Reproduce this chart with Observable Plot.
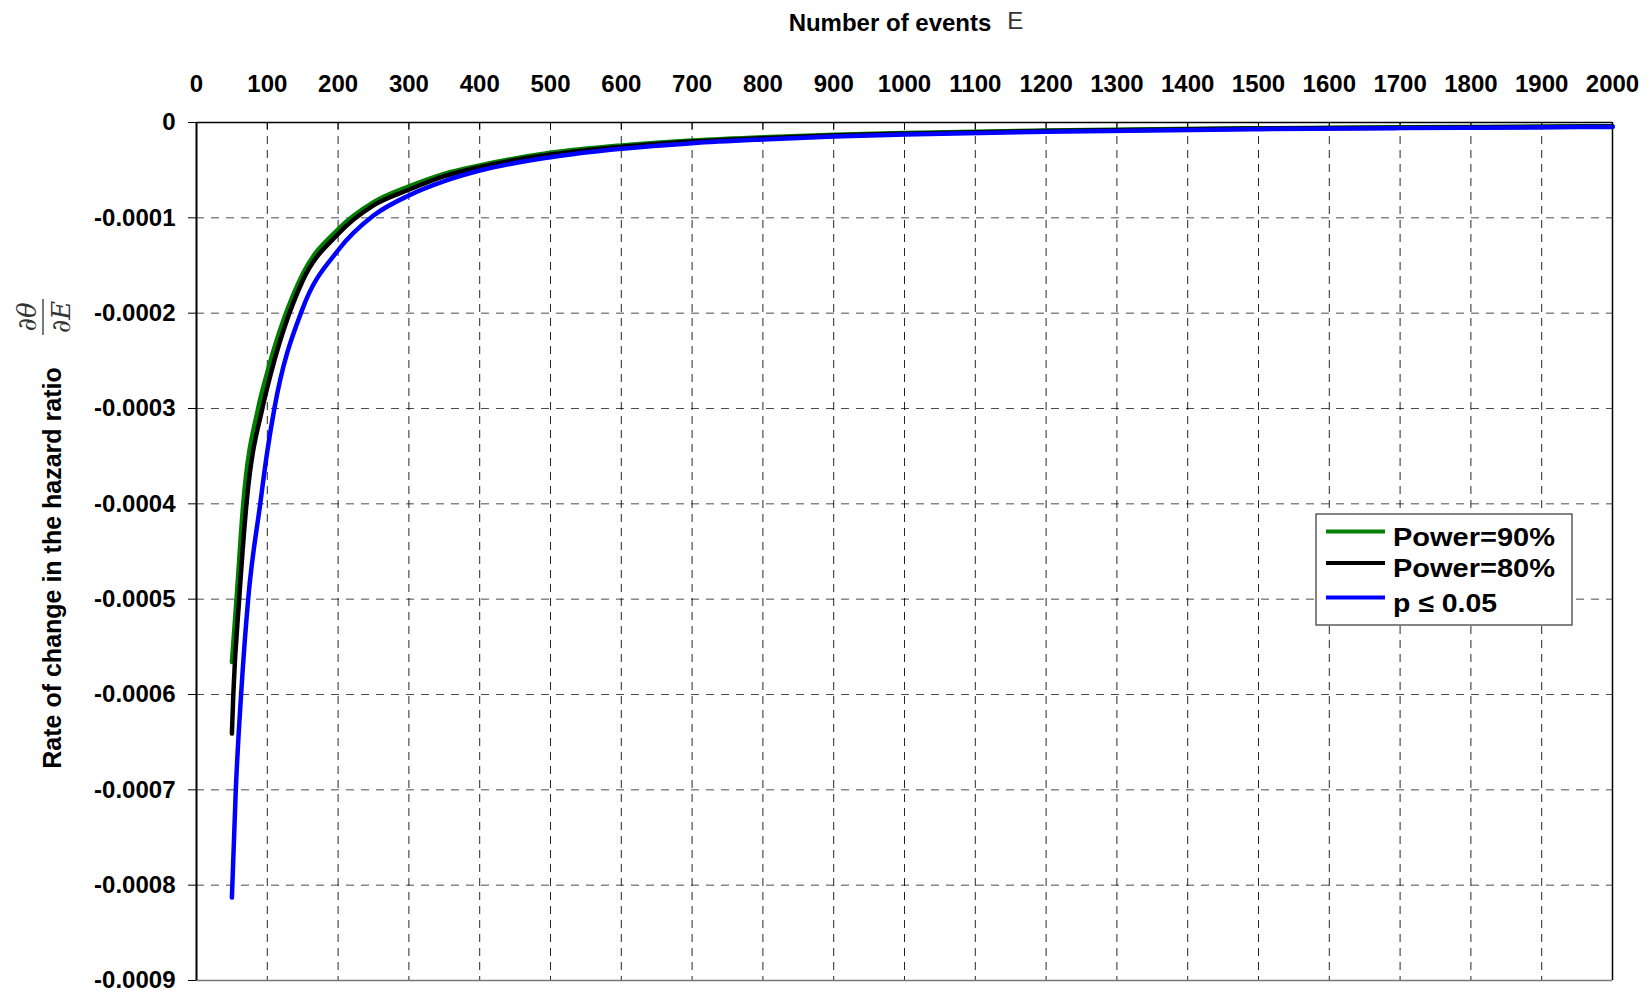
<!DOCTYPE html>
<html><head><meta charset="utf-8">
<script src="https://cdn.jsdelivr.net/npm/d3@7"></script>
<script src="https://cdn.jsdelivr.net/npm/@observablehq/plot@0.6"></script>
<style>html,body{margin:0;padding:0;background:#fff;} svg{display:block}</style>
</head><body><div id="chart"></div>
<script>
// ---- data ----
const xTicks = [0,100,200,300,400,500,600,700,800,900,1000,1100,1200,1300,1400,1500,1600,1700,1800,1900,2000];
const yTicks = [0,-0.0001,-0.0002,-0.0003,-0.0004,-0.0005,-0.0006,-0.0007,-0.0008,-0.0009];

const seriesNames = ["Power=90%", "Power=80%", "p \u2264 0.05"];
const seriesColors = ["#007f00", "#000000", "#0000ff"];

const eGreen = [50, 56.5, 66, 87, 100, 150, 200, 250, 300, 350, 400, 500, 600, 700, 800, 900, 1000, 1200, 1500, 1700, 2000];
const vGreen = [-0.000566, -0.0005, -0.0004, -0.0003, -0.000262, -0.000159, -0.000112, -0.0000836, -0.000067, -0.0000538, -0.000045, -0.0000318, -0.0000241, -0.0000189, -0.0000154, -0.0000129, -0.000011, -0.0000083, -0.000006, -0.000005, -0.0000039];

const eBlack = [50, 52, 60.3, 70.6, 93, 100, 150, 200, 250, 300, 350, 400, 500, 600, 700, 800, 900, 1000, 1200, 1500, 1700, 2000];
const vBlack = [-0.000641, -0.0006, -0.0005, -0.0004, -0.0003, -0.000278, -0.000166, -0.000117, -0.000087, -0.0000705, -0.0000563, -0.0000468, -0.0000336, -0.0000255, -0.0000199, -0.0000164, -0.0000136, -0.0000117, -0.0000089, -0.0000064, -0.0000054, -0.0000042];

const eBlue = [50, 55.5, 63, 73, 90, 100, 110, 150, 200, 250, 300, 350, 400, 500, 600, 700, 800, 900, 1000, 1200, 1500, 1700, 2000];
const vBlue = [-0.000813, -0.0007, -0.0006, -0.0005, -0.0004, -0.000345, -0.0003, -0.000195, -0.000134, -0.0000976, -0.0000765, -0.0000615, -0.0000504, -0.0000364, -0.0000276, -0.0000217, -0.0000178, -0.0000147, -0.0000126, -0.0000096, -0.000007, -0.0000059, -0.0000046];

// ---- build tables ----
const toRows = (es, vs) => es.map((e, i) => ({E: e, v: vs[i]}));
const green = toRows(eGreen, vGreen);
const black = toRows(eBlack, vBlack);
const blue = toRows(eBlue, vBlue);

const fmtY = d => d === 0 ? "0" : "-" + Math.abs(d).toFixed(4);
const lineOpts = c => ({x: "E", y: "v", stroke: c, strokeWidth: 4.5, strokeLinejoin: "round", curve: "monotone-x"});

const chart = Plot.plot({
  width: 1651, height: 991,
  marginLeft: 196, marginRight: 39, marginTop: 122, marginBottom: 11,
  style: {fontFamily: "'Liberation Sans', Arial, sans-serif", background: "#fff", overflow: "visible"},
  x: {domain: [0, 2000]},
  y: {domain: [-0.0009, 0]},
  marks: [
    Plot.gridX(xTicks.slice(1, -1), {stroke: "#000", strokeOpacity: 0.85, strokeWidth: 1, strokeDasharray: "8,6"}),
    Plot.gridY(yTicks.slice(1, -1), {stroke: "#000", strokeOpacity: 0.7, strokeWidth: 1, strokeDasharray: "8,7"}),
    Plot.ruleX(xTicks, {y1: 0, y2: -0.0000075, stroke: "#000", strokeWidth: 1}),
    Plot.ruleY([-0.0009], {stroke: "#777", strokeWidth: 1.5}),
    Plot.ruleY([0], {stroke: "#000", strokeWidth: 1.5}),
    Plot.ruleX([0], {stroke: "#000", strokeWidth: 2}),
    Plot.ruleX([2000], {stroke: "#000", strokeWidth: 1.5}),
    Plot.axisX(xTicks, {anchor: "top", tickSize: 0, tickPadding: 31, fontSize: 24, fontWeight: "bold", label: null, tickFormat: d => String(d)}),
    Plot.axisY(yTicks, {anchor: "left", tickSize: 8, tickPadding: 13, fontSize: 24, fontWeight: "bold", label: null, tickFormat: fmtY, stroke: "#000"}),
    Plot.line(green, lineOpts(seriesColors[0])),
    Plot.line(black, lineOpts(seriesColors[1])),
    Plot.line(blue, lineOpts(seriesColors[2]))
  ]
});

const svg = d3.select(chart);
const font = "'Liberation Sans', Arial, sans-serif";

// title
const t = svg.append("text").attr("x", 906).attr("y", 31).attr("text-anchor", "middle").attr("font-family", font);
t.append("tspan").attr("font-weight", "bold").attr("font-size", 24).attr("fill", "#000").text("Number of events");
t.append("tspan").attr("dx", 16).attr("dy", -2).attr("font-size", 24).attr("fill", "#333").text("E");

// y label
svg.append("text")
  .attr("transform", "translate(61,568) rotate(-90)")
  .attr("text-anchor", "middle").attr("font-family", font)
  .attr("font-weight", "bold").attr("font-size", 25).attr("fill", "#000")
  .text("Rate of change in the hazard ratio");

// fraction d theta / d E
const fr = svg.append("g").attr("transform", "translate(43,317) rotate(-90)")
  .attr("font-family", "'DejaVu Serif', 'Liberation Serif', serif").attr("font-style", "italic")
  .attr("font-size", 26).attr("fill", "#333").attr("text-anchor", "middle");
fr.append("text").attr("x", 0).attr("y", -7).text("\u2202\u03B8");
fr.append("line").attr("x1", -18).attr("x2", 18).attr("y1", 0).attr("y2", 0).attr("stroke", "#333").attr("stroke-width", 1.3);
fr.append("text").attr("x", 0).attr("y", 27).text("\u2202E");

// legend
const lg = svg.append("g").attr("font-family", font);
lg.append("rect").attr("x", 1316).attr("y", 514).attr("width", 256).attr("height", 111)
  .attr("fill", "#fff").attr("stroke", "#333").attr("stroke-width", 1.2);
const rowsY = [531.5, 563, 597.5];
const textW = [162, 162, 104];
seriesNames.forEach((name, i) => {
  lg.append("line").attr("x1", 1326).attr("x2", 1385).attr("y1", rowsY[i]).attr("y2", rowsY[i])
    .attr("stroke", seriesColors[i]).attr("stroke-width", 4);
  lg.append("text").attr("x", 1393).attr("y", rowsY[i] + 14)
    .attr("text-anchor", "start")
    .attr("font-weight", "bold").attr("font-size", 26).attr("fill", "#000")
    .attr("textLength", textW[i]).attr("lengthAdjust", "spacingAndGlyphs")
    .text(name);
});

document.getElementById("chart").appendChild(chart);
</script>
</body></html>
